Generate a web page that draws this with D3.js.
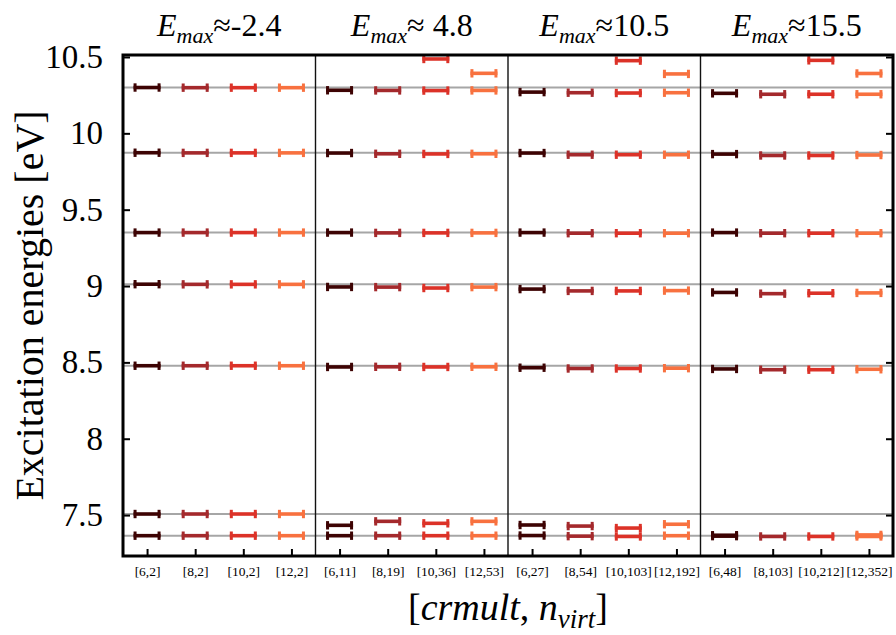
<!DOCTYPE html>
<html><head><meta charset="utf-8"><script src="https://cdn.jsdelivr.net/npm/d3@7"></script></head>
<body style="margin:0">
<svg id="s" width="896" height="635"></svg>
<script>
// ---------- data ----------
const categories = ["[6,2]","[8,2]","[10,2]","[12,2]",
                    "[6,11]","[8,19]","[10,36]","[12,53]",
                    "[6,27]","[8,54]","[10,103]","[12,192]",
                    "[6,48]","[8,103]","[10,212]","[12,352]"];
const panelTitles = ["-2.4", " 4.8", "10.5", "15.5"];
const yTickValues = [7.5, 8, 8.5, 9, 9.5, 10, 10.5];
const yTickLabels = ["7.5", "8", "8.5", "9", "9.5", "10", "10.5"];
const referenceLevels = [10.300, 9.873, 9.350, 9.012, 8.478, 7.507, 7.365];
const seriesColors = ["#3d0303", "#a4292c", "#dc3228", "#f8713f"];

// energies per category (one array of states per bar position)
const panel1 = [
  [10.300, 9.873, 9.350, 9.012, 8.478, 7.507, 7.365],
  [10.299, 9.872, 9.350, 9.011, 8.478, 7.507, 7.365],
  [10.299, 9.872, 9.350, 9.011, 8.478, 7.507, 7.365],
  [10.299, 9.872, 9.350, 9.011, 8.478, 7.507, 7.365]
];
const panel2 = [
  [10.282, 9.871, 9.350, 8.994, 8.470, 7.433, 7.365],
  [10.281, 9.866, 9.348, 8.993, 8.471, 7.459, 7.365],
  [10.487, 10.280, 9.865, 9.348, 8.987, 8.470, 7.446, 7.365],
  [10.393, 10.281, 9.866, 9.348, 8.993, 8.471, 7.459, 7.365]
];
const panel3 = [
  [10.270, 9.871, 9.350, 8.980, 8.465, 7.435, 7.366],
  [10.266, 9.860, 9.346, 8.968, 8.460, 7.428, 7.362],
  [10.476, 10.264, 9.860, 9.346, 8.968, 8.460, 7.415, 7.360],
  [10.389, 10.266, 9.860, 9.346, 8.970, 8.462, 7.440, 7.365]
];
const panel4 = [
  [10.262, 9.864, 9.350, 8.958, 8.457, 7.368, 7.362],
  [10.256, 9.855, 9.346, 8.950, 8.452, 7.360],
  [10.478, 10.256, 9.855, 9.346, 8.953, 8.452, 7.360],
  [10.392, 10.256, 9.858, 9.346, 8.955, 8.455, 7.370, 7.360]
];
const energies = [].concat(panel1, panel2, panel3, panel4);

// ---------- layout ----------
const FONT = "Liberation Serif";
const svg = d3.select("#s");
const mLeft = 123, mRight = 893, mTop = 55, mBottom = 556;

function serif(sel, size) {
  return sel.attr("font-family", FONT).style("font-family", "'Liberation Serif'")
            .attr("font-size", size);
}

const x = d3.scalePoint().domain(categories).range([mLeft, mRight]).padding(0.5);
const y = d3.scaleLinear().domain([7.232, 10.513]).range([mBottom, mTop]);

// reference lines
svg.append("g").selectAll("line").data(referenceLevels).join("line")
  .attr("x1", mLeft).attr("x2", mRight)
  .attr("y1", d => y(d)).attr("y2", d => y(d))
  .attr("stroke", "#a6a6a6").attr("stroke-width", 2);

// panel separators
const step = x.step();
const seps = [4, 8, 12].map(i => x(categories[i]) - step / 2);
svg.append("g").selectAll("line").data(seps).join("line")
  .attr("x1", d => d).attr("x2", d => d)
  .attr("y1", mTop).attr("y2", mBottom)
  .attr("stroke", "#111").attr("stroke-width", 1.4);

// markers
const halfW = 13.5, capH = 4.2;
const markers = [];
energies.forEach((vals, i) => {
  vals.forEach(v => markers.push({cat: categories[i], v, color: seriesColors[i % 4]}));
});
const mk = svg.append("g").selectAll("g").data(markers).join("g")
  .attr("transform", d => `translate(${x(d.cat)},${y(d.v)})`);
mk.append("line").attr("x1", -halfW).attr("x2", halfW).attr("y1", 0).attr("y2", 0)
  .attr("stroke", d => d.color).attr("stroke-width", 3.6);
mk.append("line").attr("x1", -halfW + 1.5).attr("x2", -halfW + 1.5).attr("y1", -capH).attr("y2", capH)
  .attr("stroke", d => d.color).attr("stroke-width", 3);
mk.append("line").attr("x1", halfW - 1.5).attr("x2", halfW - 1.5).attr("y1", -capH).attr("y2", capH)
  .attr("stroke", d => d.color).attr("stroke-width", 3);

// axes
const yAxis = d3.axisLeft(y).tickValues(yTickValues)
  .tickFormat((d, i) => yTickLabels[i]).tickSize(-7).tickPadding(20);
const gy = svg.append("g").attr("transform", `translate(${mLeft},0)`).call(yAxis);
gy.attr("font-family", null).attr("font-size", null);
gy.select(".domain").remove();
gy.selectAll(".tick line").attr("stroke", "#000").attr("stroke-width", 2);
serif(gy.selectAll(".tick text"), 33);

const yAxisR = d3.axisRight(y).tickValues(yTickValues).tickFormat("").tickSize(-7);
const gyr = svg.append("g").attr("transform", `translate(${mRight},0)`).call(yAxisR);
gyr.select(".domain").remove();
gyr.selectAll(".tick line").attr("stroke", "#000").attr("stroke-width", 2);

const xAxis = d3.axisBottom(x).tickSize(-7).tickPadding(10);
const gx = svg.append("g").attr("transform", `translate(0,${mBottom})`).call(xAxis);
gx.attr("font-family", null).attr("font-size", null);
gx.select(".domain").remove();
gx.selectAll(".tick line").attr("stroke", "#000").attr("stroke-width", 2);
serif(gx.selectAll(".tick text"), 13.5);

// frame
svg.append("rect").attr("x", mLeft).attr("y", mTop)
  .attr("width", mRight - mLeft).attr("height", mBottom - mTop)
  .attr("fill", "none").attr("stroke", "#000").attr("stroke-width", 3);

// panel titles
panelTitles.forEach((t, p) => {
  const cx = (x(categories[p * 4]) + x(categories[p * 4 + 3])) / 2;
  const tx = serif(svg.append("text"), 32).attr("x", cx).attr("y", 36)
    .attr("text-anchor", "middle");
  tx.append("tspan").attr("font-style", "italic").text("E");
  tx.append("tspan").attr("font-style", "italic").attr("font-size", 22).attr("dy", 7).text("max");
  tx.append("tspan").attr("dy", -7).text("\u2248" + t);
});

// y axis title
serif(svg.append("text"), 40)
  .attr("transform", `translate(43,${(mTop + mBottom) / 2}) rotate(-90)`)
  .attr("text-anchor", "middle")
  .text("Excitation energies [eV]");

// x axis title
const xt = serif(svg.append("text"), 38).attr("x", (mLeft + mRight) / 2).attr("y", 620)
  .attr("text-anchor", "middle");
xt.append("tspan").text("[");
xt.append("tspan").attr("font-style", "italic").text("crmult");
xt.append("tspan").text(", ");
xt.append("tspan").attr("font-style", "italic").text("n");
xt.append("tspan").attr("font-style", "italic").attr("font-size", 27).attr("dy", 8).text("virt");
xt.append("tspan").attr("dy", -8).text("]");
</script>
</body>
</html>
